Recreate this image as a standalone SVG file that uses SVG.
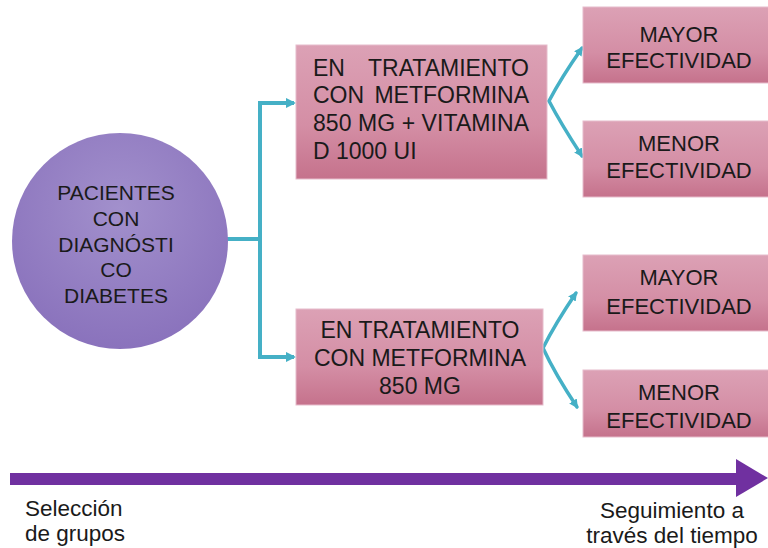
<svg xmlns="http://www.w3.org/2000/svg" width="768" height="548" viewBox="0 0 768 548">
<defs>
<linearGradient id="gBox" x1="0" y1="0" x2="0" y2="1">
<stop offset="0" stop-color="#dca1b5"/>
<stop offset="0.6" stop-color="#d48ea5"/>
<stop offset="1" stop-color="#c5728c"/>
</linearGradient>
<radialGradient id="gCirc" cx="0.5" cy="0.35" r="0.7">
<stop offset="0" stop-color="#a290cc"/>
<stop offset="1" stop-color="#8870bb"/>
</radialGradient>
<marker id="ah" viewBox="0 0 10 10" refX="8" refY="5" markerWidth="2.6" markerHeight="2.6" orient="auto" markerUnits="strokeWidth">
<path d="M0,0 L10,5 L0,10 z" fill="#45b0c6"/>
</marker>
</defs>
<style>
.box{fill:url(#gBox);stroke:#e6bccb;stroke-width:1}
.t{font-family:"Liberation Sans",Arial,sans-serif;fill:#1a1a1a}
.bt{font-size:23px}
.ct{font-size:21px;text-anchor:middle}
.mt{font-size:23px;text-anchor:middle}
.rt{font-size:22px;text-anchor:middle}
.tl{font-size:22.5px}
.con{fill:none;stroke:#45b0c6;stroke-width:4;stroke-linecap:butt;stroke-linejoin:miter}
.con2{fill:none;stroke:#45b0c6;stroke-width:3.5;stroke-linecap:round}
</style>
<rect width="768" height="548" fill="#ffffff"/>

<g id="connectors">
<path class="con" d="M223,239 L260,239"/>
<path class="con" d="M260,101 L260,359"/>
<path class="con" d="M258,103 L294,103" marker-end="url(#ah)"/>
<path class="con" d="M258,357 L294,357" marker-end="url(#ah)"/>
<path class="con2" d="M549,101 Q561,78 582,48" marker-end="url(#ah)"/>
<path class="con2" d="M549,101 Q561,124 582,156" marker-end="url(#ah)"/>
<path class="con2" d="M543,348 Q555,324 576,293" marker-end="url(#ah)"/>
<path class="con2" d="M543,348 Q555,374 577,407" marker-end="url(#ah)"/>
</g>

<g id="pacientes">
<circle cx="120" cy="241" r="108" fill="url(#gCirc)"/>
<text class="t ct" x="116" y="200">PACIENTES</text>
<text class="t ct" x="116" y="226">CON</text>
<text class="t ct" x="116" y="252">DIAGNÓSTI</text>
<text class="t ct" x="116" y="277">CO</text>
<text class="t ct" x="116" y="303">DIABETES</text>
</g>

<g id="tratamiento-vitamina">
<rect class="box" x="296" y="45" width="251" height="134"/>
<text class="t bt" x="313" y="76">EN</text>
<text class="t bt" x="529" y="76" text-anchor="end">TRATAMIENTO</text>
<text class="t bt" x="313" y="103">CON</text>
<text class="t bt" x="529" y="103" text-anchor="end">METFORMINA</text>
<text class="t bt" x="313" y="131" textLength="216" lengthAdjust="spacing">850 MG + VITAMINA</text>
<text class="t bt" x="313" y="159">D 1000 UI</text>
</g>

<g id="tratamiento-metformina">
<rect class="box" x="296" y="309" width="247" height="96"/>
<text class="t mt" x="420" y="338">EN TRATAMIENTO</text>
<text class="t mt" x="420" y="366">CON METFORMINA</text>
<text class="t mt" x="420" y="394">850 MG</text>
</g>

<g id="mayor-1">
<rect class="box" x="583" y="7" width="190" height="76"/>
<text class="t rt" x="679" y="42">MAYOR</text>
<text class="t rt" x="679" y="68">EFECTIVIDAD</text>
</g>

<g id="menor-1">
<rect class="box" x="583" y="121" width="190" height="76"/>
<text class="t rt" x="679" y="151">MENOR</text>
<text class="t rt" x="679" y="178">EFECTIVIDAD</text>
</g>

<g id="mayor-2">
<rect class="box" x="583" y="255" width="190" height="76"/>
<text class="t rt" x="679" y="285">MAYOR</text>
<text class="t rt" x="679" y="314">EFECTIVIDAD</text>
</g>

<g id="menor-2">
<rect class="box" x="583" y="370" width="190" height="67"/>
<text class="t rt" x="679" y="400">MENOR</text>
<text class="t rt" x="679" y="428">EFECTIVIDAD</text>
</g>

<g id="timeline">
<rect x="10" y="473" width="728" height="12" fill="#7030a0"/>
<polygon points="736,459 768,478 736,497" fill="#7030a0"/>
<text class="t tl" x="25" y="516">Selección</text>
<text class="t tl" x="25" y="541">de grupos</text>
<text class="t tl" x="672" y="518" text-anchor="middle">Seguimiento a</text>
<text class="t tl" x="672" y="543" text-anchor="middle">través del tiempo</text>
</g>
</svg>
